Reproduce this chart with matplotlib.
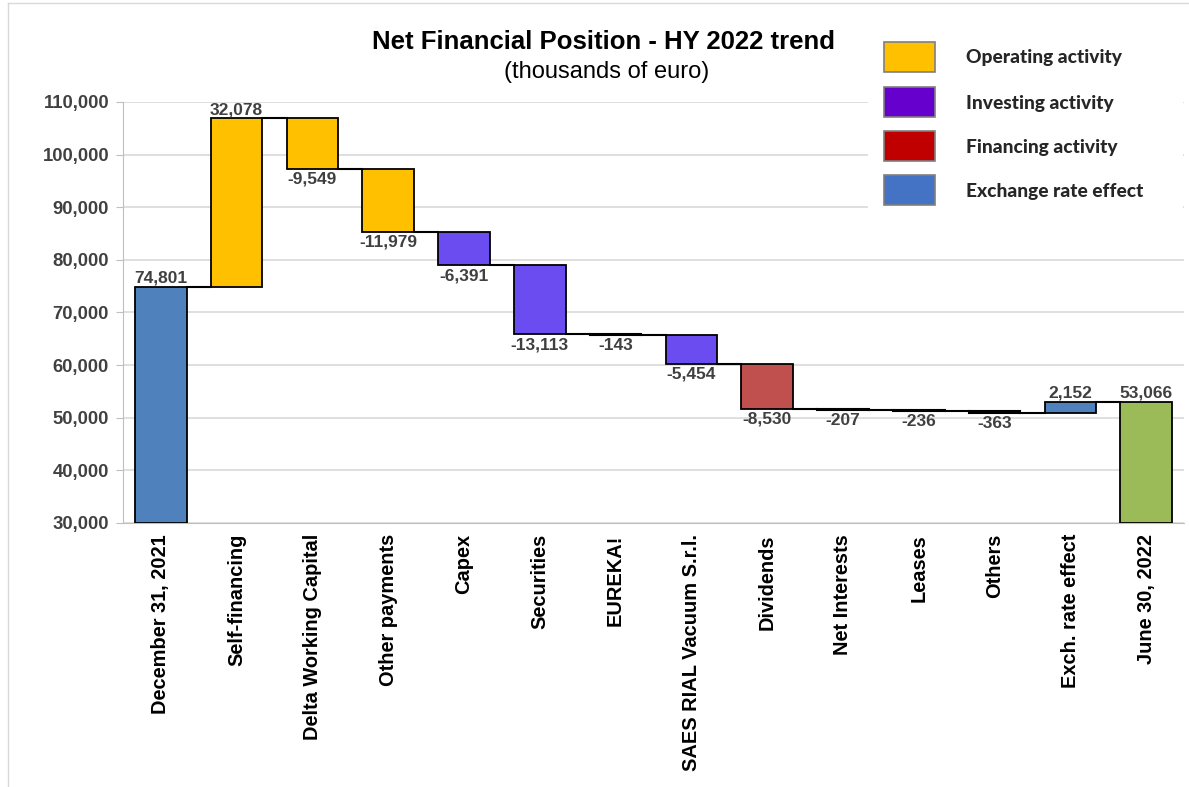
import matplotlib
matplotlib.use("Agg")
import matplotlib.pyplot as plt
from matplotlib.patches import Rectangle
from matplotlib.lines import Line2D
import numpy as np

categories = ["December 31, 2021", "Self-financing", "Delta Working Capital", "Other payments",
              "Capex", "Securities", "EUREKA!", "SAES RIAL Vacuum S.r.l.", "Dividends",
              "Net Interests", "Leases", "Others", "Exch. rate effect", "June 30, 2022"]
values = [74801, 32078, -9549, -11979, -6391, -13113, -143, -5454, -8530, -207, -236, -363, 2152, 53066]
kinds = ["total", "operating", "operating", "operating", "investing", "investing", "investing",
         "investing", "financing", "financing", "financing", "financing", "exchange", "final"]

legend_labels = ["Operating activity", "Investing activity", "Financing activity", "Exchange rate effect"]
legend_colors = ["#FFC000", "#6600CC", "#C00000", "#4472C4"]

bar_colors = {"total": "#4F81BD", "operating": "#FFC000", "investing": "#6A4CF0",
              "financing": "#C0504D", "exchange": "#4F81BD", "final": "#9BBB59"}

W, H = 1189, 787
fig = plt.figure(figsize=(W / 100, H / 100), dpi=100)
FONT = "Liberation Sans"
ax = fig.add_axes([123 / W, 1 - 523 / H, (1184 - 123) / W, (523 - 102) / H])

ymin, ymax = 30000, 110000
x = np.arange(len(categories))
bw = 0.68
running = 0
tops = []
for i, (v, k) in enumerate(zip(values, kinds)):
    if k in ("total", "final"):
        bottom, height = ymin, v - ymin
        end = v
        label_y, above = v, True
    else:
        start = running
        end = running + v
        bottom, height = min(start, end), abs(v)
        label_y, above = end, v >= 0
    ax.bar(x[i], height, bottom=bottom, width=bw, color=bar_colors[k], edgecolor="black",
           linewidth=1.5 if abs(v) < 1000 else 1.3, zorder=3)
    running = end
    tops.append(end)
    ax.annotate(f"{v:,}", (x[i], label_y), xytext=(0, 1 if above else -2), textcoords="offset points",
                ha="center", va="bottom" if above else "top", fontsize=12.5, fontweight="bold",
                color="#404040", family=FONT, zorder=5)

for i in range(len(values) - 1):
    ax.plot([x[i] + bw / 2, x[i + 1] - bw / 2], [tops[i], tops[i]], color="black", lw=1.5, zorder=4)

ax.set_xlim(-0.5, len(categories) - 0.5)
ax.set_ylim(ymin, ymax)
ax.set_yticks(np.arange(30000, 110001, 10000))
ax.yaxis.set_major_formatter(matplotlib.ticker.FuncFormatter(lambda v, p: f"{int(v):,}"))
ax.grid(axis="y", color="#D9D9D9", lw=1.2, zorder=0)
ax.set_axisbelow(True)
for s in ["top", "right"]:
    ax.spines[s].set_visible(False)
ax.spines["left"].set_color("#BFBFBF")
ax.spines["bottom"].set_color("#BFBFBF")
ax.tick_params(axis="y", length=5, color="#BFBFBF", labelsize=13.3, labelcolor="#404040", pad=5)
ax.tick_params(axis="x", length=0, pad=8)
for lab in ax.get_yticklabels():
    lab.set_fontweight("bold"); lab.set_family(FONT)
ax.set_xticks(x)
ax.set_xticklabels(categories, rotation=90, fontsize=14.4, fontweight="bold", family=FONT, color="black")

fig.text(604 / W, 1 - 42 / H, "Net Financial Position - HY 2022 trend", ha="center", va="center",
         fontsize=18.5, fontweight="bold", family=FONT)
fig.text(607 / W, 1 - 72 / H, "(thousands of euro)", ha="center", va="center", fontsize=17, family=FONT)

# legend panel
fig.patches.append(Rectangle((868 / W, 1 - 212 / H), 315 / W, 182 / H, transform=fig.transFigure,
                             facecolor="white", edgecolor="none", zorder=10))
box_tops = [42, 87, 131, 175]
for t, lab, c in zip(box_tops, legend_labels, legend_colors):
    fig.patches.append(Rectangle((884 / W, 1 - (t + 30) / H), 51 / W, 30 / H, transform=fig.transFigure,
                                 facecolor=c, edgecolor="#7F7F7F", lw=1.2, zorder=11))
    fig.text(966 / W, 1 - (t + 16) / H, lab, ha="left", va="center", fontsize=13.8, fontweight="black",
             family="Lato", color="#262626", zorder=12)

# outer frame
fig.lines.append(Line2D([8 / W, 8 / W], [0, 1 - 3 / H], transform=fig.transFigure, color="#D9D9D9", lw=1))
fig.lines.append(Line2D([8 / W, 1], [1 - 3 / H, 1 - 3 / H], transform=fig.transFigure, color="#D9D9D9", lw=1))

fig.savefig("out.png", dpi=100)
